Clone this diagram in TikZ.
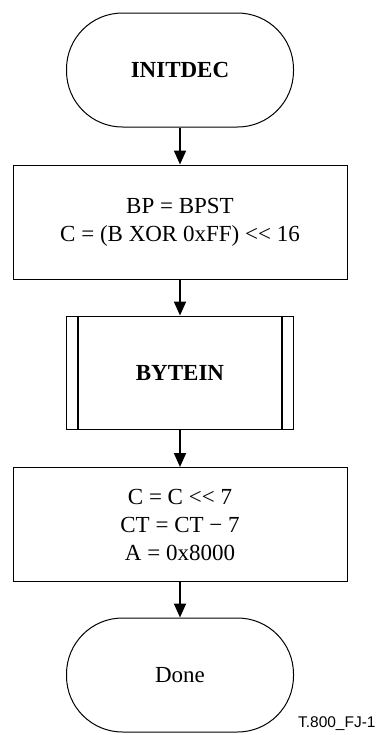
\documentclass[tikz,border=0pt]{standalone}
\usepackage{fontspec}
\setmainfont{Liberation Serif}
\newfontfamily\figsans{Liberation Sans}
\usetikzlibrary{arrows.meta, positioning}

\begin{document}
\begin{tikzpicture}[x=0.5pt, y=-0.5pt, >={Triangle[length=7pt, width=6pt]},
  term/.style={draw, line width=0.5pt, rounded corners=28pt, minimum width=113.5pt,
    minimum height=57pt, inner sep=0pt, font=\fontsize{11.5}{14}\selectfont},
  procbox/.style={draw, line width=0.5pt, minimum width=167pt, minimum height=57pt,
    inner sep=0pt, align=center, font=\fontsize{11.5}{14}\selectfont},
  subbox/.style={draw, line width=0.5pt, minimum width=113.5pt, minimum height=56.5pt,
    inner sep=0pt, font=\fontsize{11.5}{14}\selectfont\bfseries},
  bar/.style={line width=1pt},
  flow/.style={->, line width=1pt}
]
  \useasboundingbox (0,0) rectangle (377,735);

  % ======= nodes =======
  \node[term, font=\fontsize{11.5}{14}\selectfont\bfseries] (initdec) at (180,70) {INITDEC};
  \node[procbox] (setbp) at (180,222) {BP = BPST\\C = (B XOR 0xFF) <{}< 16};
  \node[subbox] (bytein) at (180,372.5) {BYTEIN};
  \node[procbox] (shiftc) at (180,524.5) {C = C <{}< 7\\CT = CT − 7\\A = 0x8000};
  \node[term] (done) at (180,675) {Done};

  % side bars of the sub-routine box
  \draw[bar] ([xshift=6pt]bytein.north west) -- ([xshift=6pt]bytein.south west);
  \draw[bar] ([xshift=-6pt]bytein.north east) -- ([xshift=-6pt]bytein.south east);

  % ======= flow =======
  \draw[flow] (initdec) -- (setbp);
  \draw[flow] (setbp) -- (bytein);
  \draw[flow] (bytein) -- (shiftc);
  \draw[flow] (shiftc) -- (done);

  % figure id
  \node[anchor=base east, inner sep=0pt, font=\figsans\fontsize{7.75}{9}\selectfont]
    (figid) at (376,727) {T.800\_FJ-1};
\end{tikzpicture}
\end{document}
